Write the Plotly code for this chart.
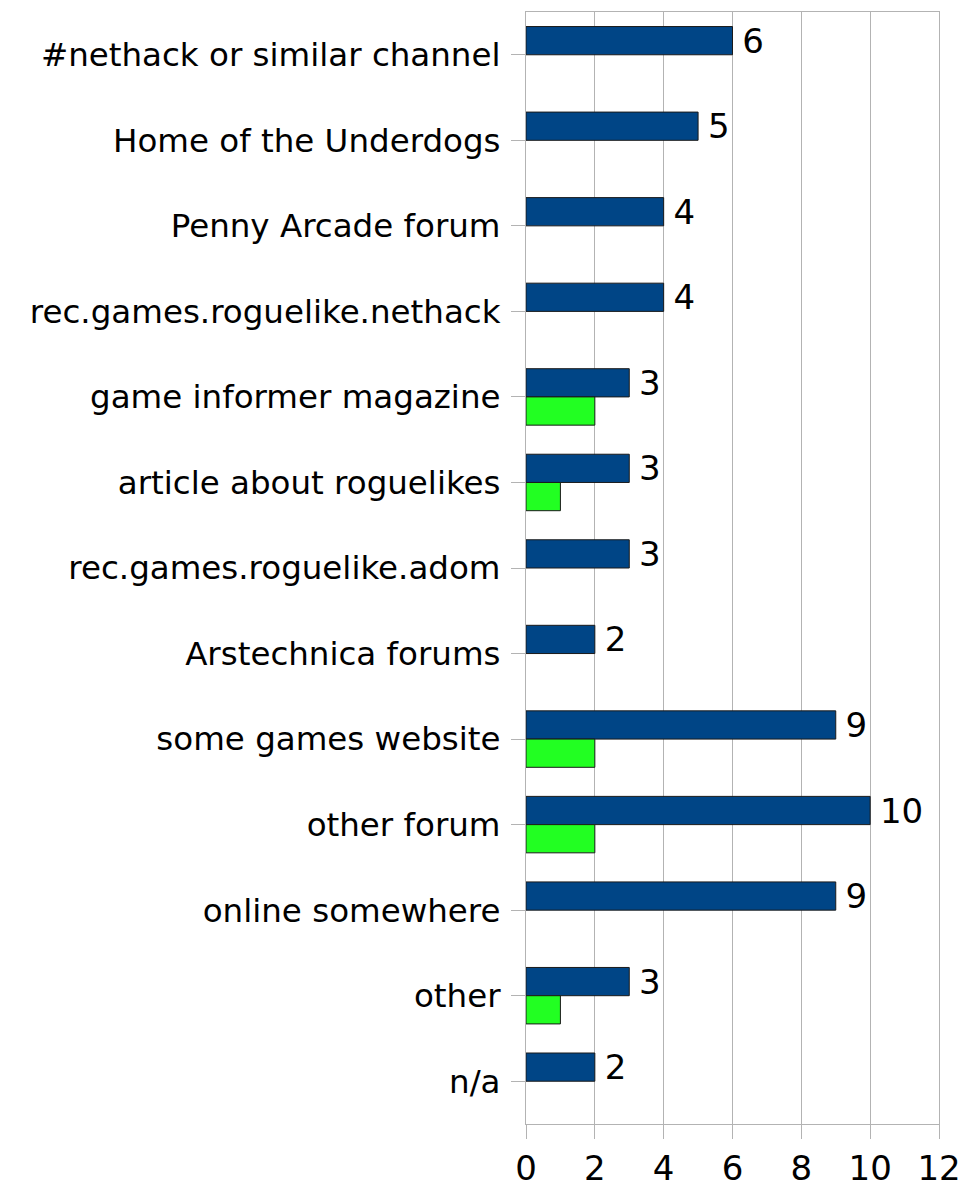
import plotly.graph_objects as go

# Dados (de cima para baixo)
categorias = [
    '#nethack or similar channel',
    'Home of the Underdogs',
    'Penny Arcade forum',
    'rec.games.roguelike.nethack',
    'game informer magazine',
    'article about roguelikes',
    'rec.games.roguelike.adom',
    'Arstechnica forums',
    'some games website',
    'other forum',
    'online somewhere',
    'other',
    'n/a',
]
valores_azul = [6, 5, 4, 4, 3, 3, 3, 2, 9, 10, 9, 3, 2]
valores_verde = [None, None, None, None, 2, 1, None, None, 2, 2, None, 1, None]
ticks_x = [0, 2, 4, 6, 8, 10, 12]

FONTE = 'DejaVu Sans'
GRADE = '#b3b3b3'

fig = go.Figure()

fig.add_trace(go.Bar(
    y=categorias,
    x=valores_azul,
    orientation='h',
    name='azul',
    marker=dict(color='#004586', line=dict(color='#1a1a1a', width=1)),
    text=['\u2009' + str(v) for v in valores_azul],
    textposition='outside',
    constraintext='none',
    textfont=dict(family=FONTE, size=34, color='black'),
    cliponaxis=False,
))

fig.add_trace(go.Bar(
    y=categorias,
    x=valores_verde,
    orientation='h',
    name='verde',
    marker=dict(color='#22ff22', line=dict(color='#1a1a1a', width=1)),
))

fig.update_layout(
    width=959,
    height=1183,
    barmode='group',
    bargap=0.34,
    bargroupgap=0,
    showlegend=False,
    plot_bgcolor='white',
    paper_bgcolor='white',
    margin=dict(l=518, r=28, t=3, b=62),
    font=dict(family=FONTE, size=32, color='black'),
    xaxis=dict(
        range=[0, 12],
        tickvals=ticks_x,
        ticks='outside',
        ticklen=14,
        tickcolor=GRADE,
        tickfont=dict(size=34),
        showgrid=True,
        gridcolor=GRADE,
        showline=True,
        linecolor=GRADE,
        mirror=True,
        zeroline=False,
    ),
    yaxis=dict(
        autorange='reversed',
        ticks='outside',
        ticklen=14,
        tickcolor=GRADE,
        tickfont=dict(size=32.5),
        ticklabelstandoff=4,
        showline=True,
        linecolor=GRADE,
        mirror=True,
        showgrid=False,
    ),
)

fig.write_html('out.html')
